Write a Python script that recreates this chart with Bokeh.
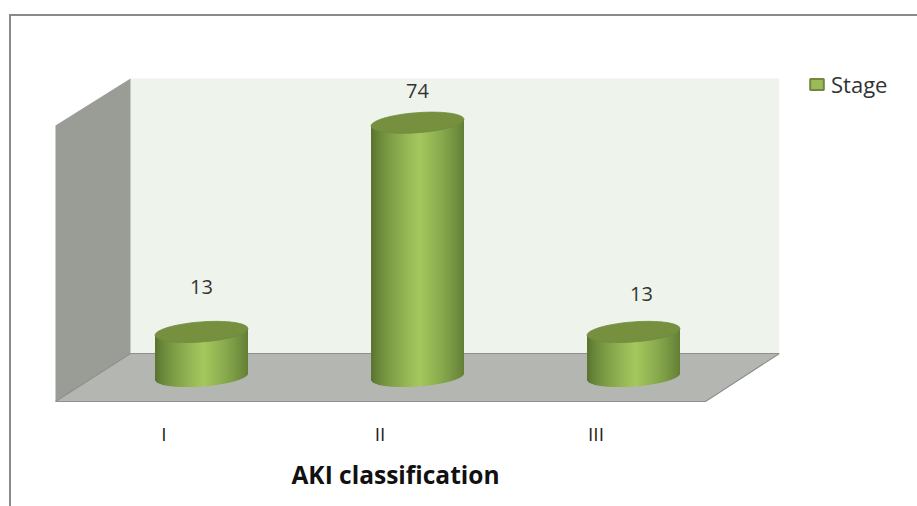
import numpy as np
from bokeh.embed import file_html
from bokeh.resources import INLINE
from bokeh.plotting import figure
from bokeh.models import (ColumnDataSource, FixedTicker, Legend, LegendItem, LinearAxis, Range1d)
from bokeh.core.properties import value

categories = ["I", "II", "III"]
stage_values = [13, 74, 13]
series_name = "Stage"
x_axis_title = "AKI classification"

# layout constants, in pixels of the 917x506 picture
OX, OY = 11, 16          # where the figure's canvas starts, inside its CSS border
CAT0, CAT_STEP = 201.0, 216.0
BASE, UNIT = 376.0, 3.43
LEFT, RIGHT, TOP, BOTTOM = OX, 779, OY, 403
A, B, TILT = 46.5, 10.0, np.radians(4.3)
label_dx = [0, 0, 8]
label_dy = [-45, -32, -38]

def dx(px): return (px - CAT0) / CAT_STEP
def dy(py): return (BASE - py) / UNIT
def wx(length): return length / CAT_STEP
def wy(length): return length / UNIT

p = figure(width=917 - OX, height=506 - OY, frame_width=RIGHT - LEFT, frame_height=BOTTOM - TOP,
           output_backend="svg", toolbar_location=None,
           x_range=Range1d(dx(LEFT), dx(RIGHT)), y_range=Range1d(dy(BOTTOM), dy(TOP)),
           min_border_left=0, min_border_top=0, min_border_right=917 - RIGHT, min_border_bottom=506 - BOTTOM,
           x_axis_location=None, y_axis_location=None)
p.outline_line_color = None
p.grid.visible = False
p.background_fill_color = "white"
p.border_fill_color = "white"
# the chart-area frame line: only a top and a left edge are visible in the picture
p.styles = {"margin-left": "9px", "margin-top": "14px",
            "border-left": "2px solid #8A8A8A", "border-top": "2px solid #8A8A8A"}

# 3-D walls and floor
p.patch([dx(v) for v in (130, 779, 779, 130)], [dy(v) for v in (78, 78, 353, 353)], fill_color="#EEF3EB", line_color=None)
p.patch([dx(v) for v in (55, 130, 130, 55)], [dy(v) for v in (125, 78, 353, 401)], fill_color="#9A9C96", line_color=None)
p.patch([dx(v) for v in (55, 130, 779, 705)], [dy(v) for v in (401, 353, 353, 401)], fill_color="#B4B6B1", line_color=None)
p.line([dx(v) for v in (55, 130, 779, 705, 55)], [dy(v) for v in (401, 353, 353, 401, 401)], line_color="#8E908C", line_width=1.2)

# cylinders
def ellipse_pts(n=90):
    t = np.linspace(0, 2 * np.pi, n)
    return (A * np.cos(t) * np.cos(TILT) - B * np.sin(t) * np.sin(TILT),
            A * np.cos(t) * np.sin(TILT) + B * np.sin(t) * np.cos(TILT))

def lower_curve(u):
    t = np.linspace(np.pi, 2 * np.pi, 200)
    ex, ey = (A * np.cos(t) * np.cos(TILT) - B * np.sin(t) * np.sin(TILT),
              A * np.cos(t) * np.sin(TILT) + B * np.sin(t) * np.cos(TILT))
    return np.interp(u, ex, ey)

DARK = np.array([0x5A, 0x76, 0x30])
LIGHT = np.array([0xA4, 0xC8, 0x5E])
def shade(f):
    s = np.clip(1 - abs(f - 0.52) / 0.5, 0, 1) ** 0.75
    c = DARK + (LIGHT - DARK) * s
    return "#%02x%02x%02x" % tuple(int(round(v)) for v in c)

ex, ey = ellipse_pts()
offs = np.arange(-A, A, 1.0)
for i, v in enumerate(stage_values):
    l, r, t, b, colors = [], [], [], [], []
    for u in offs:
        um = min(max(u + 0.5, -A + 0.3), A - 0.3)
        l.append(i + wx(u))
        r.append(i + wx(u + 1.3 if u + 1.3 < A else A))
        t.append(v + wy(um * np.tan(TILT)))
        b.append(wy(lower_curve(um)))
        colors.append(shade((u + A + 0.5) / (2 * A)))
    p.quad(left=l, right=r, top=t, bottom=b, fill_color=colors, line_color=None)
    p.patch(i + ex / CAT_STEP, v + ey / UNIT, fill_color="#76903F", line_color="#6F8A3C", line_width=0.8)

# data labels
src = ColumnDataSource(dict(x=list(range(3)), y=stage_values, t=[str(v) for v in stage_values],
                            xo=label_dx, yo=label_dy))
p.text("x", "y", text="t", source=src, x_offset="xo", y_offset="yo", text_align="center", text_baseline="middle",
       text_font=value("Open Sans"), text_font_size="20px", text_color="#333333")

# category axis: the 3-D view puts its labels left of the columns
LABEL_SHIFT = -37.5
p.extra_x_ranges["labels"] = Range1d(dx(LEFT - LABEL_SHIFT), dx(RIGHT - LABEL_SHIFT))
axis = LinearAxis(x_range_name="labels", ticker=FixedTicker(ticks=list(range(len(categories)))),
                  major_label_overrides={i: c for i, c in enumerate(categories)},
                  axis_label=x_axis_title)
axis.axis_line_color = None
axis.major_tick_line_color = None
axis.minor_tick_line_color = None
axis.major_label_standoff = 11
axis.major_label_text_font = "Open Sans"
axis.major_label_text_font_size = "19px"
axis.major_label_text_color = "#222222"
axis.axis_label_standoff = 8
axis.axis_label_text_font = "Open Sans"
axis.axis_label_text_font_style = "bold"
axis.axis_label_text_font_size = "24.5px"
axis.axis_label_text_color = "#111111"
p.add_layout(axis, "below")

# legend
swatch = p.quad(left=[np.nan], right=[np.nan], top=[np.nan], bottom=[np.nan],
                fill_color="#9BBB59", line_color="#71893F", line_width=2)
legend = Legend(items=[LegendItem(label=series_name, renderers=[swatch])], location=(29, 304),
                background_fill_alpha=0, border_line_color=None, glyph_width=17, glyph_height=14,
                label_text_font="Open Sans", label_text_font_size="22px", label_text_color="#333333",
                margin=0, padding=0, label_standoff=6)
p.add_layout(legend, "right")

open("out.html", "w").write(file_html(p, INLINE))
